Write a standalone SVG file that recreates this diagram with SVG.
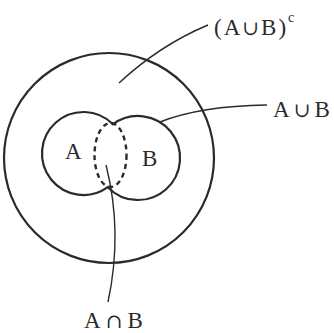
<svg xmlns="http://www.w3.org/2000/svg" width="334" height="333" viewBox="0 0 334 333">
<style>
.solid{fill:none;stroke:#2a2a2a;stroke-width:2.2}
.lead{fill:none;stroke:#2a2a2a;stroke-width:1.4}
.dash{fill:none;stroke:#2a2a2a;stroke-width:2.4;stroke-dasharray:5 4}
text{font-family:"Liberation Serif","DejaVu Serif",serif;font-size:23px;fill:#2a2a2a}
.op{font-family:"DejaVu Serif",serif;font-size:20px}
</style>
<rect width="334" height="333" fill="#fff"/>
<g id="universe"><circle class="solid" cx="109" cy="158" r="105"/></g>
<g id="union"><path class="solid" d="M112.98 124.29 A41.5 41.5 0 1 0 107.78 187.15 A42 42 0 1 0 112.98 124.29 Z"/></g>
<g id="intersection"><ellipse class="dash" cx="110.5" cy="155" rx="16" ry="32"/></g>
<g id="labelA"><text x="65" y="159">A</text></g>
<g id="labelB"><text x="142" y="166">B</text></g>
<g id="connectors">
<path class="lead" d="M119 83 Q160 45 208 25"/>
<path class="lead" d="M160 122 Q200 106 267 105"/>
<path class="lead" d="M106 165 Q123 232 108 302"/>
</g>
<g id="lblComplement"><text x="214" y="35" letter-spacing="2">(A<tspan class="op">∪</tspan>B)<tspan font-size="14" dy="-13">c</tspan></text></g>
<g id="lblUnion"><text x="273" y="117" letter-spacing="4">A<tspan class="op">∪</tspan>B</text></g>
<g id="lblInter"><text x="84" y="328" letter-spacing="5">A<tspan class="op">∩</tspan>B</text></g>
</svg>
